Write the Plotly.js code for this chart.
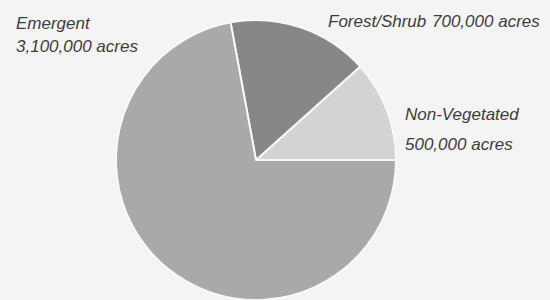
<!DOCTYPE html>
<html>
<head>
<meta charset="utf-8">
<script src="https://cdn.plot.ly/plotly-3.0.1.min.js"></script>
<style>html,body{margin:0;padding:0;background:#f4f4f4;}#chart{width:550px;height:300px;}</style>
</head>
<body>
<div id="chart"></div>
<script>
// Data (acres)
const categories = ["Non-Vegetated", "Forest/Shrub", "Emergent"];
const acres = [500000, 700000, 3100000];
const sliceColors = ["#d3d3d3", "#878787", "#a9a9a9"];

function fmt(n) { return n.toLocaleString("en-US") + " acres"; }

const W = 550, H = 300, cx = 256, cy = 160, r = 140;
const total = acres.reduce((a, b) => a + b, 0);

const labelFont = {family: "Liberation Sans, Arial, sans-serif", size: 17, color: "#3c3c3c", style: "italic"};

function ann(text, x, y) {
  return {text: text, x: x / W, y: 1 - y / H, xref: "paper", yref: "paper",
          xanchor: "left", yanchor: "middle", showarrow: false, font: labelFont};
}

const annotations = [
  ann(categories[2], 14, 23),
  ann(fmt(acres[2]), 14, 46),
  ann(categories[1], 326, 21),
  ann(fmt(acres[1]), 430, 21),
  ann(categories[0], 403, 115),
  ann(fmt(acres[0]), 403, 144)
];

const trace = {
  type: "pie",
  labels: categories,
  values: acres,
  sort: false,
  direction: "counterclockwise",
  // first slice (Non-Vegetated) begins at the 3 o'clock position
  rotation: 90 - 360 * acres[0] / total,
  marker: {colors: sliceColors, line: {color: "#f8f8f8", width: 2}},
  textinfo: "none",
  hoverinfo: "label+value",
  showlegend: false,
  domain: {x: [(cx - r) / W, (cx + r) / W], y: [(H - cy - r) / H, (H - cy + r) / H]}
};

Plotly.newPlot("chart", [trace], {
  width: W, height: H,
  margin: {l: 0, r: 0, t: 0, b: 0},
  paper_bgcolor: "#f4f4f4",
  plot_bgcolor: "#f4f4f4",
  showlegend: false,
  annotations: annotations
}, {displayModeBar: false, staticPlot: true});
</script>
</body>
</html>
